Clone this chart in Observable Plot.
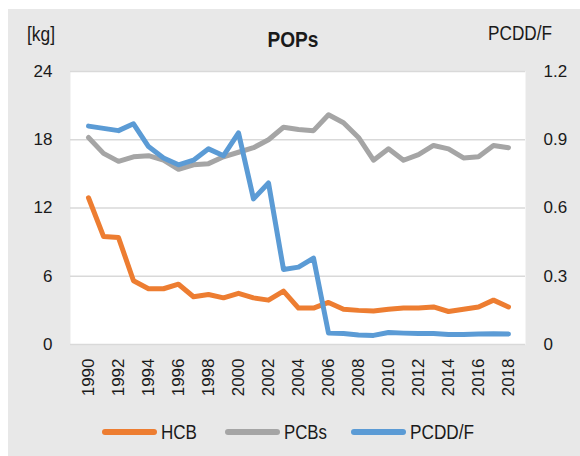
<!DOCTYPE html>
<html>
<head>
<meta charset="utf-8">
<script src="https://cdn.jsdelivr.net/npm/d3@7"></script>
<script src="https://cdn.jsdelivr.net/npm/@observablehq/plot@0.6"></script>
<style>
  html, body { margin: 0; padding: 0; background: #ffffff; }
  #wrap { position: relative; width: 580px; height: 456px; overflow: hidden; }
  #bg { position: absolute; left: 8px; top: 9px; width: 572px; height: 447px; background: #e8e8e8; }
  #chart { position: absolute; left: 0; top: 0; }
  #overlay { position: absolute; left: 0; top: 0; }
  svg text { font-family: "Liberation Sans", Arial, sans-serif; }
</style>
</head>
<body>
<div id="wrap">
  <div id="bg"></div>
  <div id="chart"></div>
  <svg id="overlay" width="580" height="456"></svg>
</div>
<script>
// ---- data ----
const years = [1990,1991,1992,1993,1994,1995,1996,1997,1998,1999,2000,2001,2002,2003,2004,2005,2006,2007,2008,2009,2010,2011,2012,2013,2014,2015,2016,2017,2018];
const hcb   = [12.9,9.5,9.4,5.6,4.9,4.9,5.3,4.2,4.4,4.1,4.5,4.1,3.9,4.7,3.2,3.2,3.7,3.1,3.0,2.95,3.1,3.2,3.2,3.3,2.9,3.1,3.3,3.9,3.3];
const pcbs  = [18.2,16.8,16.1,16.5,16.6,16.2,15.4,15.8,15.9,16.5,16.9,17.3,18.0,19.1,18.9,18.8,20.2,19.5,18.2,16.2,17.2,16.2,16.7,17.5,17.2,16.4,16.5,17.5,17.3];
const pcddf = [0.96,0.95,0.94,0.97,0.87,0.82,0.79,0.81,0.86,0.83,0.93,0.64,0.71,0.33,0.34,0.38,0.05,0.048,0.042,0.04,0.053,0.05,0.048,0.048,0.044,0.044,0.046,0.047,0.046];
const seriesNames  = ["HCB","PCBs","PCDD/F"];
const seriesColors = ["#ED7D31","#A5A5A5","#5B9BD5"];
const leftTicks  = [0,6,12,18,24];
const rightTicks = [0,0.3,0.6,0.9,1.2];
const rightTickLabels = ["0","0.3","0.6","0.9","1.2"];
const yearTicks = [1990,1992,1994,1996,1998,2000,2002,2004,2006,2008,2010,2012,2014,2016,2018];
const title = "POPs";
const leftTitle = "[kg]";
const rightTitle = "PCDD/F";

// secondary axis mapped onto primary domain
const leftMax = 24, rightMax = 1.2, k = leftMax / rightMax;
const rows = (vals, factor) => years.map((y, i) => ({year: y, v: vals[i] * factor}));
const dHCB = rows(hcb, 1), dPCB = rows(pcbs, 1), dPCDD = rows(pcddf, k);

const font = '"Liberation Sans", Arial, sans-serif';
const lineOpts = {x: "year", y: "v", strokeWidth: 5, strokeLinejoin: "round", strokeLinecap: "round"};

const chart = Plot.plot({
  width: 580, height: 456,
  marginLeft: 70, marginRight: 55, marginTop: 71, marginBottom: 112,
  style: {background: "transparent", fontFamily: font, fontSize: "17px", color: "#1a1a1a", overflow: "visible"},
  x: {type: "point", domain: years, padding: 0.5},
  y: {domain: [0, leftMax]},
  marks: [
    Plot.frame({fill: "white", stroke: null}),
    Plot.gridY(leftTicks, {stroke: "#d9d9d9", strokeOpacity: 1, strokeWidth: 1.5}),
    Plot.axisY(leftTicks, {anchor: "left", tickSize: 0, tickPadding: 18, fontSize: 17, label: null}),
    Plot.axisY(leftTicks, {anchor: "right", tickSize: 0, tickPadding: 18, fontSize: 17, label: null,
      tickFormat: d => rightTickLabels[leftTicks.indexOf(d)]}),
    Plot.axisX(yearTicks, {tickRotate: -90, tickSize: 0, tickPadding: 14, fontSize: 17, label: null, tickFormat: d => String(d)}),
    Plot.line(dHCB,  {...lineOpts, stroke: seriesColors[0]}),
    Plot.line(dPCB,  {...lineOpts, stroke: seriesColors[1]}),
    Plot.line(dPCDD, {...lineOpts, stroke: seriesColors[2]})
  ]
});
document.getElementById("chart").appendChild(chart);

// ---- titles and legend ----
const ov = d3.select("#overlay");
const txt = (x, y, s, size, len, anchor, weight) => ov.append("text")
  .attr("x", x).attr("y", y).attr("font-size", size).attr("fill", "#1a1a1a")
  .attr("text-anchor", anchor || "start").attr("font-weight", weight || "normal")
  .attr("textLength", len).attr("lengthAdjust", "spacingAndGlyphs").text(s);

txt(293, 47, title, 22, 51, "middle", "bold");
txt(27, 41, leftTitle, 20, 28);
txt(552, 40, rightTitle, 20, 64, "end");

const legendX = [102, 225, 351];
const legendLen = [36, 43, 64];
seriesNames.forEach((name, i) => {
  ov.append("line").attr("x1", legendX[i] + 3).attr("x2", legendX[i] + 52).attr("y1", 432).attr("y2", 432)
    .attr("stroke", seriesColors[i]).attr("stroke-width", 6).attr("stroke-linecap", "round");
  txt(legendX[i] + 59, 439, name, 20, legendLen[i]);
});
</script>
</body>
</html>
